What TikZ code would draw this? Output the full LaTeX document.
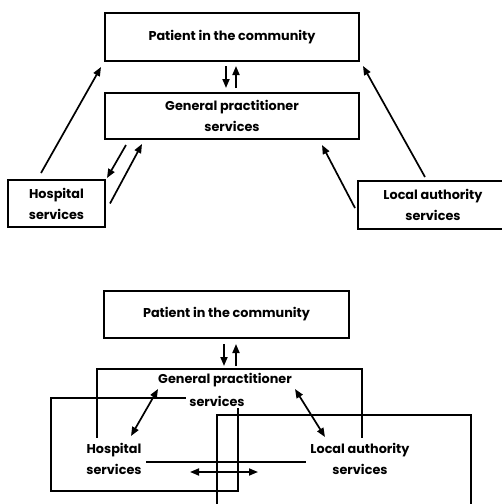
\documentclass[tikz,border=0pt]{standalone}
\usepackage{fontspec}
\setmainfont{Poppins}
\usetikzlibrary{arrows.meta}
\newcommand\lblfont{\bfseries\fontsize{12.8}{21}\selectfont}
\begin{document}
\begin{tikzpicture}[x=1pt,y=-1pt,
  box/.style={draw, line width=2pt, inner sep=0pt, align=center, font=\lblfont},
  lbl/.style={align=center, font=\lblfont, inner xsep=5pt, inner ysep=5pt},
  tip/.tip={Triangle[length=9pt,width=7pt]},
  arr/.style={line width=1.7pt, -tip},
  darr/.style={line width=1.7pt, tip-tip}]
\useasboundingbox (0,0) rectangle (502,504);
\clip (0,0) rectangle (502,504);
% ---------- top diagram ----------
\node[box, minimum width=254pt, minimum height=48pt] (pat1) at (232,37) {Patient in the community};
\node[box, minimum width=254pt, minimum height=46pt] (gp1) at (232,116) {General practitioner\\services};
\node[box, minimum width=97pt, minimum height=47pt] (hos1) at (56.5,203.5) {Hospital\\services};
\node[box, minimum width=150pt, minimum height=48pt] (loc1) at (433,205) {Local authority\\services};
\draw[arr] ([xshift=-6pt,yshift=-4pt]pat1.south) -- ([xshift=-6pt,yshift=4pt]gp1.north);
\draw[arr] ([xshift=4pt,yshift=4pt]gp1.north) -- ([xshift=4pt,yshift=-4pt]pat1.south);
\draw[arr] ([xshift=-15.5pt,yshift=6pt]hos1.north) -- ([xshift=-3pt,yshift=-5pt]pat1.south west);
\draw[arr] ([xshift=22pt,yshift=-5pt]gp1.south west) -- ([xshift=1pt,yshift=1pt]hos1.north east);
\draw[arr] ([xshift=4pt]hos1.east) -- ([xshift=38pt,yshift=-4pt]gp1.south west);
\draw[arr] ([xshift=-2pt,yshift=-3pt]loc1.west) -- ([xshift=-38pt,yshift=-5pt]gp1.south east);
\draw[arr] ([xshift=-8pt,yshift=3pt]loc1.north) -- ([xshift=3pt,yshift=-4pt]pat1.south east);
% ---------- bottom diagram ----------
\node[box, minimum width=245pt, minimum height=47pt] (pat2) at (226.5,314.5) {Patient in the community};
\node[box, minimum width=265pt, minimum height=93pt] (gp2) at (229.5,415.5) {};
\node[box, minimum width=187pt, minimum height=93pt] (hos2) at (144.5,444.5) {};
\node[box, minimum width=254pt, minimum height=93pt] (loc2) at (344,461.5) {};
\node[lbl, inner sep=1pt] (gptxt) at (225,380) {General practitioner};
\node[lbl, fill=white, inner xsep=3pt, inner ysep=2pt] (gpsvc) at (217,401) {services};
\node[lbl, fill=white, inner xsep=4pt] (hostxt) at (114,459) {Hospital\\services};
\node[lbl, fill=white, inner xsep=4pt] (loctxt) at (360,459) {Local authority\\services};
\draw[arr] ([xshift=-2.5pt,yshift=-5pt]pat2.south) -- ([xshift=-5.5pt,yshift=2pt]gp2.north);
\draw[arr] ([xshift=6.5pt,yshift=2pt]gp2.north) -- ([xshift=9.5pt,yshift=-5pt]pat2.south);
\draw[darr] ([xshift=-71.5pt,yshift=26.5pt]gp2.center) -- ([xshift=17pt,yshift=23pt]hostxt.center);
\draw[darr] ([xshift=65.5pt,yshift=26.5pt]gp2.center) -- ([xshift=-35pt,yshift=22pt]loctxt.center);
\draw[darr] ([xshift=45.5pt,yshift=-27.5pt]hos2.center) -- ([xshift=-86pt,yshift=-10.5pt]loc2.center);
\end{tikzpicture}
\end{document}
